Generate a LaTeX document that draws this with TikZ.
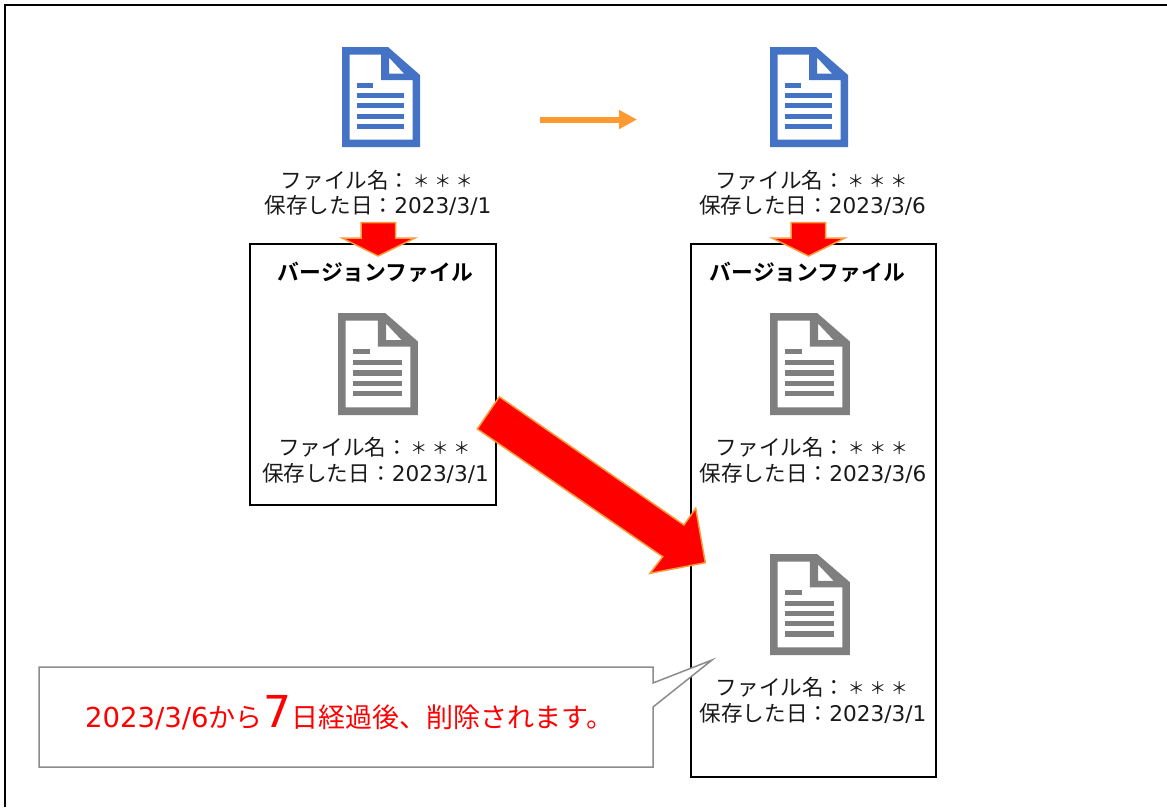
\documentclass[tikz,border=0pt]{standalone}
\usepackage{fontspec}
\setmainfont{DejaVu Sans}
\newfontfamily\jpf{Noto Sans CJK JP}
\newfontfamily\jpb{Noto Sans CJK JP}[BoldFont={Noto Sans CJK JP Bold}]
\usetikzlibrary{arrows.meta}
\definecolor{docblue}{HTML}{4472C4}
\definecolor{docgrey}{HTML}{7F7F7F}
\definecolor{edge}{HTML}{F79A3C}
\definecolor{arrowor}{HTML}{FF9A33}
\definecolor{calloutline}{HTML}{8C8C8C}
\newcommand{\myast}{\makebox[1em]{\raisebox{1pt}{\scalebox{0.78}{＊}}}}
\newcommand{\fl}[1]{{\jpf ファイル名：\myast\myast\myast}\\{\jpf 保存した日：}#1}
\tikzset{
  x=1pt,y=-1pt,
  caption/.style={align=center,inner sep=0pt,font=\fontsize{21.6}{25.5}\selectfont,text=black!90},
  framebox/.style={draw=black,line width=1.5pt,fill=white,outer sep=0pt,inner sep=0pt},
  boxtitle/.style={inner sep=0pt,font=\jpb\bfseries\fontsize{21.8}{25}\selectfont},
  redarrow/.style={fill=red,draw=edge,line width=1.5pt,line join=miter},
  pics/docicon/.style={code={
    \fill[#1,even odd rule] (0,0)--(46,0)--(78,28)--(78,100)--(0,100)--cycle
       (7.5,7.5)--(39,7.5)--(39,33)--(70.5,33)--(70.5,92.5)--(7.5,92.5)--cycle
       (47,10.5)--(47,26.5)--(62,26.5)--cycle;
    \fill[#1] (14.5,35.5)rectangle(31,40.5);
    \foreach \yy in {46.2,56.2,66.5,76.5}{\fill[#1] (14.5,\yy)rectangle(62,\yy+5.2);}
  }}
}
\begin{document}
\begin{tikzpicture}
\useasboundingbox (0,0) rectangle (1167,807);
\fill[white] (0,0) rectangle (1167,807);
\coordinate (frameB) at (5,807);
\coordinate (frameC) at (5,5);
\coordinate (frameD) at (1167,5);
\draw[black,line width=2pt,line join=miter] (frameB) -- (frameC) -- (frameD);
\node[framebox,minimum width=246pt,minimum height=261pt,anchor=north west] (boxL) at (250,244) {};
\node[framebox,minimum width=245pt,minimum height=533pt,anchor=north west] (boxR) at (691,244) {};
\pic at (342,47) {docicon=docblue};
\pic at (770,47) {docicon=docblue};
\pic[xscale=1.025,yscale=1.02] at (338,313) {docicon=docgrey};
\pic[xscale=1.025,yscale=1.02] at (770,313) {docicon=docgrey};
\pic[xscale=1.025,yscale=1.01] at (770,554) {docicon=docgrey};
\node[caption] (cap1) at (378,193) {\fl{2023/3/1}};
\node[caption] (cap2) at (812.5,193) {\fl{2023/3/6}};
\node[caption] (cap3) at (375.5,460.5) {\fl{2023/3/1}};
\node[caption] (cap4) at (813,460.5) {\fl{2023/3/6}};
\node[caption] (cap5) at (813,700.5) {\fl{2023/3/1}};
\node[boxtitle] (titleL) at (375.5,272.5) {バージョンファイル};
\node[boxtitle] (titleR) at (807.5,272.5) {バージョンファイル};
\coordinate (orangeA) at (540,119.5);
\coordinate (orangeB) at (637,119.5);
\draw[arrowor,line width=6pt,-{Triangle[length=18pt,width=18pt]}] (orangeA) -- (orangeB);
\draw[redarrow] (361,222.5)--(395.5,222.5)--(395.5,238)--(415,238)--(378,256)--(342,238)--(361,238)--cycle;
\draw[redarrow] (791,222.5)--(825.5,222.5)--(825.5,238)--(845,238)--(808.5,256)--(772,238)--(791,238)--cycle;
\draw[redarrow] (499.3,396.7)--(684,525)--(695.7,508.3)--(705.3,562.7)--(650,573.3)--(662.7,556.7)--(477.3,429)--cycle;
\draw[calloutline,line width=1.5pt,fill=white] (39,667)--(653,667)--(653,683)--(712,660)--(653,707)--(653,767)--(39,767)--cycle;
\node[inner sep=0pt,text=red,anchor=base west] (calloutText) at (85,727.5) {\fontsize{27.5}{30}\selectfont 2023/3/6{\jpf\fontsize{27}{30}\selectfont から}\hspace{1pt}{\fontsize{44}{50}\selectfont 7}{\jpf\fontsize{27}{30}\selectfont 日経過後、削除されます。}};
\end{tikzpicture}
\end{document}
